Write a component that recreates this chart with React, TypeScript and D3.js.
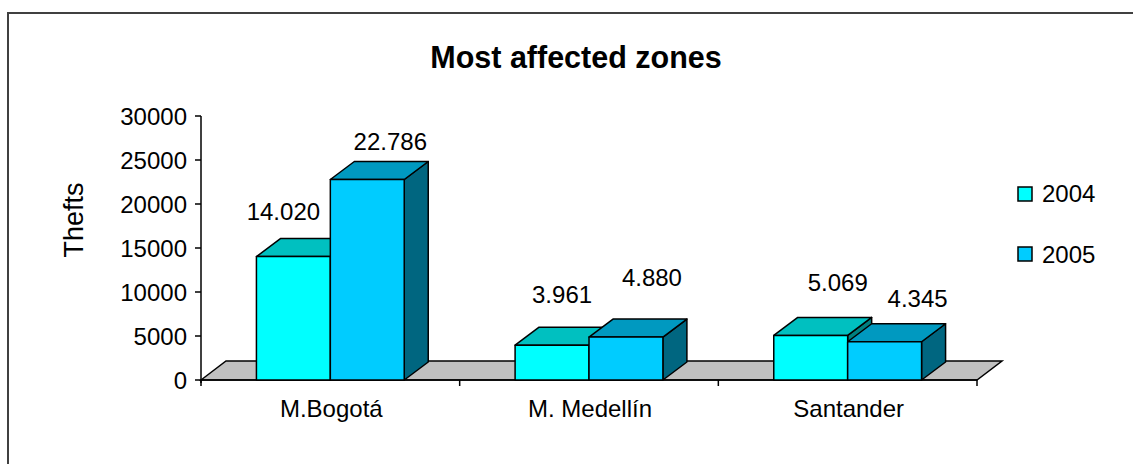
import React from "react";
import * as d3 from "d3";

const categories = ["M.Bogotá", "M. Medellín", "Santander"];
const seriesNames = ["2004", "2005"];
const values2004 = [14020, 3961, 5069];
const values2005 = [22786, 4880, 4345];
const yTicks = [0, 5000, 10000, 15000, 20000, 25000, 30000];

// label nudges (layout, px) relative to bar front-top centre
const labelDx = [[-10, 23], [10, 26], [27, 33]];
const labelDy = [[-36.5, -29.5], [-42.5, -51], [-44.5, -35]];

const frontColors = ["#00FFFF", "#00CCFF"];
const topColors = ["#00C0C0", "#0099C0"];
const sideColors = ["#008080", "#006680"];

const W = 1133;
const H = 464;
const FONT = "'Liberation Sans', Arial, sans-serif";

const locale = d3.formatLocale({ decimal: ",", thousands: ".", grouping: [3], currency: ["", ""] });
const fmt = locale.format(",");

export default function App() {
  const x0 = d3.scaleBand<string>().domain(categories).range([201, 977]);
  const barW = x0.bandwidth() / 3.5;
  const x1 = d3.scaleBand<string>().domain(seriesNames).range([0, 2 * barW]);
  const y = d3.scaleLinear().domain([0, 30000]).range([380, 116]);
  const base = y(0);
  const bdx = 24, bdy = -18;
  const fdx = 25, fdy = -19;
  const [xl, xr] = x0.range();
  const series = [values2004, values2005];

  const bars: React.ReactNode[] = [];
  const labels: React.ReactNode[] = [];
  categories.forEach((c, ci) => {
    const gx = (x0(c) as number) + (x0.bandwidth() - 2 * barW) / 2;
    seriesNames.forEach((s, si) => {
      const v = series[si][ci];
      const a = gx + (x1(s) as number);
      const b = a + x1.bandwidth();
      const t = y(v);
      const pts = (p: number[][]) => p.map((q) => q.join(",")).join(" ");
      bars.push(
        <g key={c + s} stroke="#000" strokeWidth={1.5} strokeLinejoin="round">
          <polygon points={pts([[b, t], [b + bdx, t + bdy], [b + bdx, base + bdy], [b, base]])} fill={sideColors[si]} />
          <polygon points={pts([[a, t], [a + bdx, t + bdy], [b + bdx, t + bdy], [b, t]])} fill={topColors[si]} />
          <rect x={a} y={t} width={b - a} height={base - t} fill={frontColors[si]} />
        </g>
      );
      labels.push(
        <text key={"l" + c + s} x={(a + b) / 2 + labelDx[ci][si]} y={t + labelDy[ci][si]} textAnchor="middle" fontSize={24} fontFamily={FONT} fill="#000">
          {fmt(v)}
        </text>
      );
    });
  });

  const catTicks = [xl, ...categories.map((c) => (x0(c) as number) + x0.bandwidth())];

  return (
    <svg width={W} height={H} style={{ position: "absolute", left: 0, top: 0, background: "#fff" }}>
      <rect x={0} y={0} width={W} height={H} fill="#fff" />
      <rect x={8} y={13} width={1140} height={480} fill="none" stroke="#404040" strokeWidth={2} />
      <text x={576} y={68} textAnchor="middle" fontSize={30.5} fontWeight="bold" fontFamily={FONT} fill="#000">
        Most affected zones
      </text>
      {/* floor */}
      <polygon
        points={[[xl, base], [xl + fdx, base + fdy], [xr + fdx, base + fdy], [xr, base]].map((q) => q.join(",")).join(" ")}
        fill="#C0C0C0"
        stroke="#000"
        strokeWidth={1.5}
      />
      {/* y axis */}
      <line x1={xl} x2={xl} y1={y(30000)} y2={base + 3} stroke="#000" strokeWidth={1.5} />
      {yTicks.map((tk) => (
        <g key={tk}>
          <line x1={xl - 6} x2={xl} y1={y(tk)} y2={y(tk)} stroke="#000" strokeWidth={1.5} />
          <text x={187} y={y(tk) + 9} textAnchor="end" fontSize={24} fontFamily={FONT} fill="#000">
            {tk}
          </text>
        </g>
      ))}
      <text transform={`translate(83,220) rotate(-90)`} textAnchor="middle" fontSize={27} fontFamily={FONT} fill="#000">
        Thefts
      </text>
      {/* x axis */}
      <line x1={xl} x2={xr} y1={base} y2={base} stroke="#000" strokeWidth={1.5} />
      {catTicks.map((tx, i) => (
        <line key={i} x1={tx} x2={tx} y1={base} y2={base + 6} stroke="#000" strokeWidth={1.5} />
      ))}
      {categories.map((c) => (
        <text key={c} x={(x0(c) as number) + x0.bandwidth() / 2 + 1} y={417} textAnchor="middle" fontSize={24} fontFamily={FONT} fill="#000">
          {c}
        </text>
      ))}
      {bars}
      {labels}
      {/* legend */}
      {seriesNames.map((s, i) => (
        <g key={s}>
          <rect x={1018} y={187 + i * 60} width={14} height={14} fill={frontColors[i]} stroke="#000" strokeWidth={1.5} />
          <text x={1042} y={202 + i * 61} fontSize={24} fontFamily={FONT} fill="#000">
            {s}
          </text>
        </g>
      ))}
    </svg>
  );
}
